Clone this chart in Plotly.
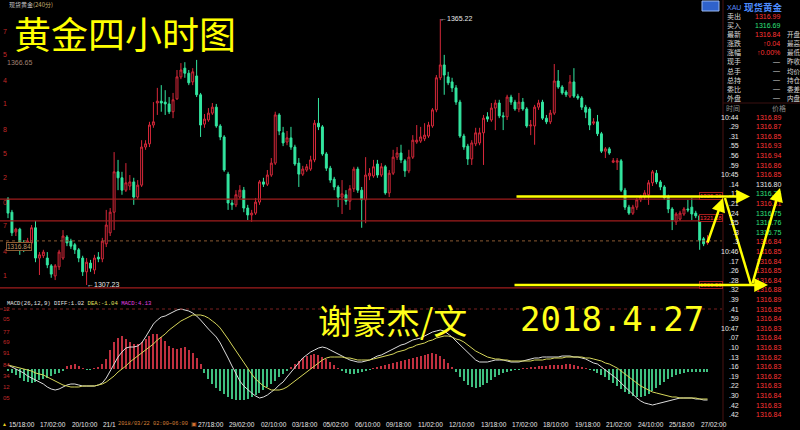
import plotly.graph_objects as go

W, H = 800, 430
def X(px): return px / W
def Y(py): return 1 - py / H

# ---------------- 4-hour candles (XAU, 2018-03-15 .. 2018-04-27) ----------------
opens = [
 1326.0,1323.1,1318.8,1319.4,1316.4,1315.7,1316.4,1319.7,1313.1,1313.6,
 1313.1,1311.4,1309.2,1311.2,1313.1,1317.7,1316.8,1316.0,1314.9,1313.1,
 1310.1,1312.0,1310.5,1313.3,1312.9,1316.2,1318.6,1323.1,1331.9,1330.6,
 1327.9,1328.8,1329.7,1326.4,1329.0,1337.3,1338.0,1342.1,1346.9,1347.3,
 1347.1,1346.7,1345.0,1347.8,1352.6,1354.5,1353.4,1351.5,1352.8,1348.7,
 1342.3,1343.2,1344.7,1346.0,1341.9,1339.5,1331.4,
 1325.1,1324.7,1326.4,1327.9,1324.0,1322.5,1322.9,1325.3,1329.7,1329.2,
 1331.2,1333.8,1344.3,1340.4,1338.4,1339.3,1337.3,1333.8,1331.4,1332.3,
 1332.5,1334.5,1342.5,1341.7,1335.8,1332.7,1330.3,1328.6,1326.4,1326.9,
 1325.5,1328.2,1332.5,1327.9,1325.8,1331.0,1331.0,1333.6,1331.2,1333.0,
 1327.3,1331.6,1335.1,1336.0,1334.3,1332.1,1335.1,1338.4,1338.6,1339.1,
 1339.7,1341.9,1345.4,1352.4,1355.2,1352.6,1351.5,1350.2,1347.1,1339.7,
 1337.5,
 1334.7,1338.0,1338.2,1340.4,1343.9,1343.2,1345.8,1346.9,1344.1,1343.9,
 1348.2,1347.1,1345.6,1347.1,1345.6,1341.9,1341.9,1346.0,1347.1,1343.6,
 1342.8,1344.7,1351.7,1350.4,1349.3,1348.4,1351.5,1348.4,1348.0,1346.0,
 1345.6,1342.5,1342.8,1340.2,1336.4,1336.9,1334.0,1334.0,1334.3,1327.9,
 1324.2,1322.9,1324.2,1325.8,1326.4,1326.9,1329.5,1331.6,1329.7,1328.6,
 1326.4,1323.8,1321.0,1321.6,1322.7,1323.8,1324.2,1322.9,1322.3,1317.3,
 1316.4]
highs = [
 1326.4,1323.6,1319.7,1319.7,1317.0,1317.5,1320.3,1321.2,1314.4,1314.9,
 1314.4,1311.8,1311.8,1314.9,1319.2,1318.1,1317.3,1316.4,1315.3,1313.6,
 1313.1,1312.7,1313.8,1314.4,1317.5,1323.6,1324.0,1336.2,1334.5,1331.9,
 1333.8,1331.2,1330.6,1330.1,1338.8,1338.8,1342.8,1347.1,1350.2,1350.8,
 1349.7,1348.2,1349.1,1354.1,1355.6,1355.8,1354.1,1354.5,1356.3,1349.1,
 1344.5,1345.8,1346.9,1346.7,1342.3,1339.9,1331.9,
 1325.8,1327.9,1329.0,1328.6,1324.7,1323.6,1326.2,1330.1,1330.6,1332.3,
 1334.9,1345.0,1344.7,1341.7,1340.8,1341.7,1337.8,1334.9,1333.2,1333.6,
 1335.4,1343.2,1348.0,1342.1,1336.2,1333.2,1330.8,1329.0,1330.1,1327.9,
 1329.0,1333.0,1333.0,1328.6,1335.1,1332.7,1334.5,1334.5,1333.8,1333.4,
 1332.3,1336.7,1337.3,1337.8,1334.7,1336.7,1339.9,1342.1,1341.7,1342.5,
 1342.8,1345.8,1353.0,1365.22,1357.4,1353.7,1352.4,1350.8,1347.6,1340.2,
 1338.0,
 1338.8,1341.5,1341.5,1344.3,1344.9,1346.9,1347.6,1347.6,1344.9,1348.7,
 1348.7,1347.6,1349.1,1348.0,1346.0,1343.2,1346.5,1347.6,1347.6,1344.3,
 1345.4,1355.4,1354.1,1350.8,1349.7,1353.0,1354.5,1348.9,1348.4,1346.5,
 1346.0,1343.6,1344.3,1340.6,1337.3,1337.3,1334.9,1334.9,1334.7,1328.4,
 1324.7,1324.7,1326.2,1326.9,1327.9,1330.1,1332.3,1332.3,1330.1,1329.0,
 1326.9,1324.2,1323.1,1323.4,1324.2,1325.8,1326.2,1323.4,1322.7,1317.7,
 1318.1]
lows = [
 1321.8,1317.9,1317.9,1313.8,1314.4,1315.1,1316.0,1312.2,1309.4,1313.1,
 1310.9,1308.8,1308.3,1310.5,1312.7,1315.7,1315.1,1314.0,1312.2,1309.2,
 1307.23,1310.1,1309.6,1312.2,1312.2,1315.5,1317.9,1319.2,1327.9,1326.9,
 1327.5,1327.9,1324.7,1326.0,1328.6,1336.7,1337.3,1341.5,1344.3,1345.0,
 1344.3,1344.5,1343.6,1347.6,1352.1,1352.4,1350.8,1350.8,1348.2,1339.5,
 1341.5,1342.8,1344.3,1341.5,1338.8,1331.9,1323.6,
 1323.6,1324.2,1326.0,1323.1,1321.4,1321.0,1322.5,1324.7,1328.6,1328.8,
 1330.8,1333.4,1339.9,1337.5,1337.7,1336.7,1333.2,1328.6,1331.0,1331.9,
 1332.1,1334.0,1341.0,1335.4,1332.1,1329.5,1327.9,1324.2,1322.7,1324.7,
 1323.6,1327.5,1327.3,1319.7,1320.7,1330.1,1330.6,1330.6,1330.8,1326.9,
 1326.4,1331.2,1334.5,1333.8,1330.8,1331.6,1334.7,1338.0,1338.2,1338.6,
 1339.3,1341.5,1344.9,1351.9,1348.7,1350.8,1349.3,1346.5,1339.3,1336.7,
 1333.4,
 1333.4,1337.5,1337.7,1333.4,1342.8,1342.8,1341.0,1343.6,1341.0,1343.2,
 1346.5,1345.2,1344.9,1345.2,1341.5,1339.9,1337.8,1345.4,1343.2,1342.3,
 1342.3,1344.3,1350.0,1348.7,1348.2,1348.0,1348.0,1347.6,1345.4,1343.6,
 1341.0,1342.1,1339.7,1336.0,1334.9,1335.6,1333.8,1332.3,1327.5,1323.6,
 1322.5,1322.5,1323.6,1325.3,1325.8,1324.7,1328.8,1329.2,1327.9,1325.8,
 1322.9,1319.2,1320.3,1321.2,1322.3,1323.1,1321.4,1321.8,1314.9,1315.7,
 1316.0]
closes = [
 1322.9,1318.6,1319.4,1316.4,1315.7,1316.8,1319.7,1313.1,1313.8,1314.4,
 1311.6,1309.6,1311.4,1314.4,1317.9,1316.4,1315.7,1314.9,1313.1,1310.1,
 1312.2,1310.9,1313.1,1312.9,1316.8,1320.3,1323.1,1331.9,1330.6,1327.9,
 1329.5,1329.7,1326.4,1329.0,1337.3,1338.0,1342.1,1342.8,1347.3,1346.9,
 1346.7,1345.0,1347.6,1352.6,1354.1,1353.4,1351.3,1353.7,1348.7,1342.1,
 1343.4,1344.7,1346.0,1341.9,1339.5,1332.3,1325.1,
 1324.7,1326.9,1327.9,1324.0,1322.5,1322.9,1325.3,1329.7,1329.2,1331.2,
 1333.8,1344.3,1340.8,1338.2,1339.3,1337.3,1333.6,1331.4,1332.5,1333.0,
 1334.5,1342.5,1341.7,1335.8,1332.7,1330.1,1328.6,1326.4,1327.1,1325.5,
 1328.2,1332.5,1327.9,1325.8,1331.2,1331.6,1333.0,1331.2,1333.0,1327.3,
 1331.6,1335.1,1336.0,1334.5,1332.1,1335.1,1338.8,1338.8,1339.5,1339.9,
 1342.1,1345.4,1352.4,1355.2,1353.0,1351.3,1350.2,1347.1,1339.7,1337.3,
 1334.7,
 1338.2,1340.4,1340.4,1343.6,1343.4,1345.8,1346.9,1344.1,1343.9,1348.2,
 1347.1,1345.6,1347.1,1345.6,1341.9,1342.1,1346.0,1346.9,1343.6,1342.8,
 1344.7,1351.7,1350.4,1349.1,1348.7,1351.5,1348.4,1348.0,1346.0,1344.9,
 1342.1,1342.8,1340.2,1336.4,1336.9,1336.0,1334.3,1334.3,1327.9,1324.2,
 1322.9,1324.2,1325.8,1326.4,1327.3,1329.5,1331.9,1329.7,1328.6,1326.2,
 1323.8,1321.4,1322.7,1322.9,1323.8,1323.6,1322.7,1322.3,1317.0,1316.2,
 1316.84]

# ---------------- MACD(26,12,9) ----------------
diff = [
 1.0,0.5,0.0,-0.5,-1.0,-1.75,-2.25,-2.75,-3.25,-3.75,
 -4.5,-5.0,-5.25,-5.0,-4.5,-4.0,-3.75,-3.75,-4.0,-4.25,
 -4.25,-4.25,-4.25,-4.0,-3.5,-2.25,-0.5,1.5,3.0,4.25,
 5.25,5.5,5.5,5.75,6.5,8.0,9.75,11.25,12.25,13.0,
 13.25,13.75,14.25,14.75,15.0,14.75,14.5,14.0,13.25,12.25,
 11.0,10.0,9.0,8.0,6.5,4.75,2.75,0.75,-1.25,-3.0,
 -4.25,-5.25,-6.0,-6.75,-7.25,-7.0,-6.5,-5.75,-5.0,-4.0,
 -3.25,-2.0,-0.75,0.5,1.75,2.75,3.5,4.25,4.75,5.25,
 5.5,5.25,4.75,4.25,3.75,3.25,2.75,2.25,2.0,1.75,
 1.75,2.0,2.25,2.75,3.25,3.5,4.0,4.5,5.0,5.5,
 6.0,6.25,6.75,7.25,7.5,7.75,8.25,8.75,9.25,9.5,
 9.75,9.5,8.75,8.0,7.0,6.0,5.0,4.0,3.0,2.25,
 1.75,1.75,1.75,2.0,2.25,2.25,2.25,2.0,1.75,1.75,
 1.75,2.0,2.25,2.5,2.75,2.75,3.0,3.0,3.0,3.0,
 3.0,3.25,3.25,3.25,3.0,3.0,2.75,2.5,2.0,1.5,
 1.25,0.5,-0.25,-1.0,-1.75,-2.5,-3.5,-4.5,-5.5,-6.5,
 -7.25,-8.0,-8.5,-8.75,-9.0,-8.75,-8.5,-8.25,-8.0,-7.75,
 -7.5,-7.25,-7.25,-7.25,-7.25,-7.5,-7.5,-7.75,-7.75]
dea = [
 1.0,0.75,0.5,0.25,0.0,-0.25,-0.5,-1.0,-1.25,-1.5,
 -2.0,-2.5,-3.0,-3.5,-4.0,-4.25,-4.5,-4.5,-4.5,-4.25,
 -4.25,-4.25,-4.25,-4.0,-3.75,-3.25,-2.5,-1.75,-0.75,0.0,
 0.75,1.75,2.5,3.25,4.0,4.75,5.5,6.25,7.25,8.0,
 8.75,9.75,10.5,11.25,12.0,12.5,13.0,13.5,13.5,13.5,
 13.25,12.75,12.0,11.25,10.25,9.0,7.5,6.0,4.5,3.0,
 1.5,0.0,-1.25,-2.5,-3.5,-4.25,-4.75,-5.25,-5.25,-5.25,
 -5.0,-4.5,-3.75,-3.0,-2.25,-1.5,-0.75,0.0,0.75,1.5,
 2.25,2.75,3.0,3.0,3.0,3.0,2.75,2.75,2.5,2.25,
 2.25,2.25,2.25,2.5,2.75,3.0,3.25,3.5,3.75,4.25,
 4.5,4.75,5.25,5.5,6.0,6.25,6.5,7.0,7.25,7.75,
 8.0,8.25,8.25,8.0,7.5,7.25,6.75,6.0,5.25,4.5,
 4.0,3.5,3.0,2.75,2.5,2.5,2.25,2.25,2.0,2.0,
 2.0,2.0,2.0,2.0,2.25,2.25,2.25,2.5,2.5,2.75,
 2.75,2.75,3.0,3.0,3.0,3.0,3.0,2.75,2.75,2.5,
 2.25,2.0,1.5,1.25,0.75,0.25,-0.5,-1.25,-2.0,-2.75,
 -3.5,-4.25,-4.75,-5.25,-5.75,-6.0,-6.25,-6.5,-6.75,-7.0,
 -7.0,-7.25,-7.25,-7.25,-7.25,-7.25,-7.5,-7.5,-7.5]
macd_hist = [
 -0.5,-1.0,-1.5,-2.25,-3.0,-3.25,-3.5,-3.25,-2.75,-2.5,
 -2.25,-1.75,-1.25,-1.0,-0.5,0.75,1.0,1.25,0.75,0.25,
 -0.25,-0.25,0.25,0.5,1.25,2.5,4.75,6.75,7.75,8.25,
 7.5,6.75,6.25,6.25,6.75,7.5,8.25,8.75,8.75,8.0,
 7.0,5.75,5.25,5.0,5.25,5.5,4.75,4.0,2.75,1.25,
 -1.0,-2.5,-3.75,-4.75,-5.5,-6.25,-7.0,-7.5,-7.75,-7.75,
 -7.75,-7.5,-7.0,-6.5,-6.0,-5.25,-4.5,-3.75,-3.0,-2.0,
 -1.25,-0.5,0.5,1.25,2.0,2.75,3.25,3.5,3.75,3.5,
 3.0,2.5,1.75,1.0,0.25,-0.5,-1.0,-1.25,-1.25,-1.0,
 -0.75,-0.5,-0.25,0.25,0.5,0.75,1.0,1.25,1.5,1.75,
 2.0,2.25,2.5,2.75,3.0,3.25,3.5,3.75,4.0,3.75,
 3.25,2.5,1.5,0.5,-0.75,-2.0,-3.0,-4.0,-4.5,-4.75,
 -4.5,-4.0,-3.5,-2.75,-2.0,-1.5,-1.0,-0.75,-0.5,-0.25,
 -0.25,0.25,0.25,0.5,0.5,0.75,0.75,0.75,1.0,1.0,
 1.0,1.0,1.25,1.25,1.0,0.75,0.5,0.25,-0.25,-0.5,
 -1.0,-1.5,-2.0,-2.75,-3.5,-4.25,-5.0,-5.75,-6.25,-6.75,
 -7.0,-7.0,-6.75,-6.25,-5.5,-4.75,-4.0,-3.25,-2.5,-2.0,
 -1.5,-1.25,-1.0,-0.75,-0.75,-0.75,-0.75,-0.75,-0.75]

# ---------------- labels / levels ----------------
date_tick_idx = [0, 8, 16, 24, 48, 56, 64, 72, 80, 88, 96, 104, 112, 120, 128, 136, 144, 152, 160, 168, 176]
date_tick_txt = ["15/18:00", "17/02:00", "20/10:00", "21/1", "27/18:00",
                 "29/02:00", "02/10:00", "03/18:00", "05/02:00", "06/10:00", "09/18:00", "11/02:00",
                 "12/10:00", "13/18:00", "17/02:00", "18/10:00", "19/18:00", "21/02:00", "24/10:00",
                 "25/18:00", "27/02:00"]
cursor_text = "2018/03/22 02:00~06:00"
price_tick_vals = [1367.8, 1362.6, 1357.4, 1351.9, 1346.7, 1341.2, 1335.8, 1330.6, 1325.3, 1320.3, 1314.6, 1309.4]
price_tick_txt = ["2", "7", "5", "4", "1", "8", "5", "2", "0", "7", "4", "1"]
macd_tick_vals = [15.0, 12.5, 9.25, 6.75, 4.0, 1.0, -1.75, -4.5, -7.25]
macd_tick_txt = ["12", "05", "77", "69", "91", "84", "34", "12", "05"]

red_levels = [1325.95, 1321.2, 1306.6]
red_level_txt = ["1326.36", "1321.18", "1306.56"]
last_price = 1316.84
yellow_levels = [1326.5, 1307.2]
high_idx, high_val = 110, 1365.22
low_idx, low_val = 20, 1307.23

quote_labels = ["卖出", "买入", "最新", "涨跌", "涨幅", "现手", "总手", "总持", "委比", "外盘"]
quote_values = ["1316.99", "1316.69", "1316.84", "↑0.04", "↑0.00%", "—", "—", "—", "—", "—"]
quote_kind = ["up", "down", "up", "up", "up", "flat", "flat", "flat", "flat", "flat"]
quote_right = ["", "", "开盘", "最高", "最低", "昨收", "均价", "持仓", "委差", "内盘"]

tick_times = ["10:44", ".29", ".31", ".55", ".56", ".59", "10:45", ".14", ".17", ".21", ".24", ".25",
              ".3", ".3", "10:46", ".17", ".26", ".28", ".32", ".39", ".41", ".59", "10:47", ".07",
              ".10", ".13", ".16", ".19", ".22", ".30", ".42", ".42"]
tick_prices = [1316.89, 1316.87, 1316.85, 1316.93, 1316.94, 1316.86, 1316.85, 1316.80, 1316.76, 1316.81,
               1316.75, 1316.76, 1316.75, 1316.84, 1316.85, 1316.84, 1316.85, 1316.84, 1316.88, 1316.89,
               1316.85, 1316.84, 1316.83, 1316.84, 1316.83, 1316.82, 1316.83, 1316.82, 1316.83, 1316.84,
               1316.83, 1316.84]
ref_price = 1316.80

# ---------------- styling ----------------
RED = "#d8283a"
GREEN = "#33e6a0"
RED_BAR = "#c0303f"
GREEN_BAR = "#3fbf80"
UPTXT = "#ff3434"
DNTXT = "#2ee07a"
NUMF = "Liberation Sans"
CJK = "Noto Sans CJK SC"

n = len(closes)
idx = list(range(n))
px_per_bar = 3.93
x0 = -8 / px_per_bar
x1 = x0 + 722 / px_per_bar

fig = go.Figure()
fig.add_trace(go.Candlestick(
    x=idx, open=opens, high=highs, low=lows, close=closes,
    increasing=dict(line=dict(color=RED, width=1), fillcolor="black"),
    decreasing=dict(line=dict(color=GREEN, width=1), fillcolor=GREEN),
    whiskerwidth=0, xaxis="x", yaxis="y", showlegend=False))

fig.add_trace(go.Bar(
    x=idx, y=macd_hist, width=0.28,
    marker=dict(color=[RED_BAR if v > 0 else GREEN_BAR for v in macd_hist], line=dict(width=0)),
    xaxis="x2", yaxis="y2", showlegend=False))
fig.add_trace(go.Scatter(x=idx, y=diff, mode="lines", line=dict(color="#dcdcdc", width=1),
                         xaxis="x2", yaxis="y2", showlegend=False))
fig.add_trace(go.Scatter(x=idx, y=dea, mode="lines", line=dict(color="#d6d65a", width=1),
                         xaxis="x2", yaxis="y2", showlegend=False))

shapes = []
for lv in red_levels:
    shapes.append(dict(type="line", xref="paper", x0=0, x1=X(722), yref="y", y0=lv, y1=lv,
                       line=dict(color="#a01c1c", width=1.3)))
shapes.append(dict(type="line", xref="paper", x0=0, x1=X(722), yref="y", y0=last_price, y1=last_price,
                   line=dict(color="#8a5a32", width=1, dash="dot")))
shapes.append(dict(type="line", xref="paper", x0=0, x1=X(722), yref="y2", y0=macd_tick_vals[0], y1=macd_tick_vals[0],
                   line=dict(color="#7a2020", width=1, dash="dot")))
shapes.append(dict(type="line", xref="paper", yref="paper", x0=X(723), x1=X(723), y0=0, y1=1,
                   line=dict(color="#4a1212", width=1)))
shapes.append(dict(type="line", xref="paper", yref="paper", x0=X(723), x1=1, y0=Y(103), y1=Y(103),
                   line=dict(color="#3a1010", width=1)))
shapes.append(dict(type="rect", xref="paper", yref="paper", x0=X(702), x1=X(719), y0=Y(11), y1=Y(1),
                   fillcolor="#2f62cc", line=dict(color="#9ab8f0", width=1)))
# hand-drawn yellow zigzag segment (no arrow head)
shapes.append(dict(type="line", xref="paper", yref="paper", x0=X(725), y0=Y(198), x1=X(751), y1=Y(285),
                   line=dict(color="#ffff00", width=2.5)))

ann = []
def txt(x, y, s, size=7, color="#d0d0d0", family=NUMF, xanchor="left", **kw):
    d = dict(x=X(x), y=Y(y), xref="paper", yref="paper", text=s, showarrow=False,
             xanchor=xanchor, yanchor="middle", font=dict(size=size, color=color, family=family))
    d.update(kw)
    ann.append(d)

# top bar
txt(7, 4.5, "现货黄金<span style='color:#c8b070'>(240分)</span>", size=6, color="#c8c8c8", family=CJK)
txt(5, 63, "1366.65", size=7, color="#a08070")

# left price digits (partially cut off axis labels)
for v, s in zip(price_tick_vals, price_tick_txt):
    ann.append(dict(x=0.001, y=v, xref="paper", yref="y", text=s, showarrow=False, xanchor="left",
                    yanchor="middle", font=dict(size=7, color="#c02828", family=NUMF)))
for v, s in zip(macd_tick_vals, macd_tick_txt):
    ann.append(dict(x=0.001, y=v, xref="paper", yref="y2", text=s, showarrow=False, xanchor="left",
                    yanchor="middle", font=dict(size=6, color="#c02828", family=NUMF)))

# price line labels
for lv, s in zip(red_levels, red_level_txt):
    ann.append(dict(x=X(723), y=lv, xref="paper", yref="y", text=s, showarrow=False, xanchor="right",
                    yanchor="bottom", yshift=-1, font=dict(size=6, color=UPTXT, family=NUMF),
                    bgcolor="black", bordercolor="#a01c1c", borderwidth=1, borderpad=0))
ann.append(dict(x=X(6), y=last_price, xref="paper", yref="y", text="1316.84", showarrow=False,
                xanchor="left", yanchor="top", yshift=-1, font=dict(size=6.5, color="#c09868", family=NUMF),
                bgcolor="black", bordercolor="#8a5a32", borderwidth=1, borderpad=0))

# high / low markers
ann.append(dict(x=high_idx, y=high_val, xref="x", yref="y", text="←%.2f" % high_val, showarrow=False,
                xanchor="left", yanchor="middle", xshift=-2, font=dict(size=7, color="#e8e8e8", family=NUMF)))
ann.append(dict(x=low_idx, y=low_val, xref="x", yref="y", text="←%.2f" % low_val, showarrow=False,
                xanchor="left", yanchor="middle", xshift=-2, font=dict(size=7, color="#e8e8e8", family=NUMF)))

# MACD title
txt(5, 303, "MACD(26,12,9) DIFF:1.02 <span style='color:#e0e060'>DEA:-1.04</span> "
            "<span style='color:#e040e0'>MACD:4.13</span>", size=5.6, color="#e0e0e0", family="Liberation Mono")

# date labels
for i, s in zip(date_tick_idx, date_tick_txt):
    ann.append(dict(x=i, y=Y(424), xref="x2", yref="paper", text=s, showarrow=False, xanchor="left",
                    yanchor="middle", xshift=-1, font=dict(size=6.5, color="#e6e6e6", family=NUMF)))
txt(116, 424, cursor_text, size=5.3, color="#d88038", family="Liberation Mono")
txt(189, 424, "▣", size=5.5, color="#d07030")
txt(0, 424, "▲", size=5, color="#e8d020")

# right panel
txt(725, 7, "XAU", size=7, color="#5a8cff")
txt(742, 7, "<b>现货黄金</b>", size=9.5, color="#4d8dff", family=CJK)
for k, (lab, val, kind, rl) in enumerate(zip(quote_labels, quote_values, quote_kind, quote_right)):
    yy = 16 + 9.1 * k
    txt(725, yy, lab, size=7, color="#d8d8d8", family=CJK)
    col = UPTXT if kind == "up" else (DNTXT if kind == "down" else "#d8d8d8")
    txt(782, yy, val, size=7, color=col, xanchor="right")
    if rl:
        txt(785, yy, rl, size=6.5, color="#d8d8d8", family=CJK)
txt(724, 108, "时间", size=7, color="#8c8c8c", family=CJK)
txt(770, 108, "价格", size=7, color="#8c8c8c", family=CJK)
for k, (t, p) in enumerate(zip(tick_times, tick_prices)):
    yy = 117 + 9.6 * k
    txt(741, yy, t, size=7, color="#e8e8e8", xanchor="right")
    col = UPTXT if p > ref_price else (DNTXT if p < ref_price else "#e8e8e8")
    txt(783, yy, "%.2f" % p, size=7, color=col, xanchor="right")

# yellow hand drawing: horizontal support / resistance arrows
for lv, x_tail, x_head in zip(yellow_levels, [515, 513], [750, 768]):
    ann.append(dict(x=X(x_head), y=lv, xref="paper", yref="y", ax=-(x_head - x_tail), ay=0,
                    axref="pixel", ayref="pixel", text="", showarrow=True, arrowhead=2, arrowsize=1.1,
                    arrowwidth=2.5, arrowcolor="#ffff00", standoff=0, startstandoff=0))
ann.append(dict(x=X(723), y=Y(198), xref="paper", yref="paper", ax=-16, ay=46, text="", showarrow=True,
                arrowhead=2, arrowsize=1.1, arrowwidth=2.5, arrowcolor="#ffff00", standoff=0))
ann.append(dict(x=X(780), y=Y(188), xref="paper", yref="paper", ax=-28, ay=97, text="", showarrow=True,
                arrowhead=2, arrowsize=1.1, arrowwidth=2.5, arrowcolor="#ffff00", standoff=0))

# overlay texts
txt(12, 33, "黄金四小时图", size=37, color="#ffff00", family=CJK)
txt(316, 319, "谢豪杰/文", size=34, color="#ffff1a", family=CJK)
txt(518, 319, "2018.4.27", size=34, color="#ffff1a", family="DejaVu Sans Mono")

fig.update_layout(
    width=W, height=H, margin=dict(l=0, r=0, t=0, b=0),
    paper_bgcolor="black", plot_bgcolor="black", showlegend=False,
    xaxis=dict(domain=[0, X(722)], range=[x0, x1], visible=False, anchor="y",
               rangeslider=dict(visible=False), fixedrange=True),
    yaxis=dict(domain=[Y(292), Y(10)], range=[1305.70, 1367.18], visible=False, anchor="x"),
    xaxis2=dict(domain=[0, X(722)], range=[x0, x1], visible=False, anchor="y2"),
    yaxis2=dict(domain=[Y(418), Y(296)], range=[-12.25, 18.25], visible=False, anchor="x2"),
    bargap=0, shapes=shapes, annotations=ann,
)
fig.write_html("out.html", config={"displayModeBar": False},
               post_script="document.body.style.margin='0';document.body.style.background='black';")
